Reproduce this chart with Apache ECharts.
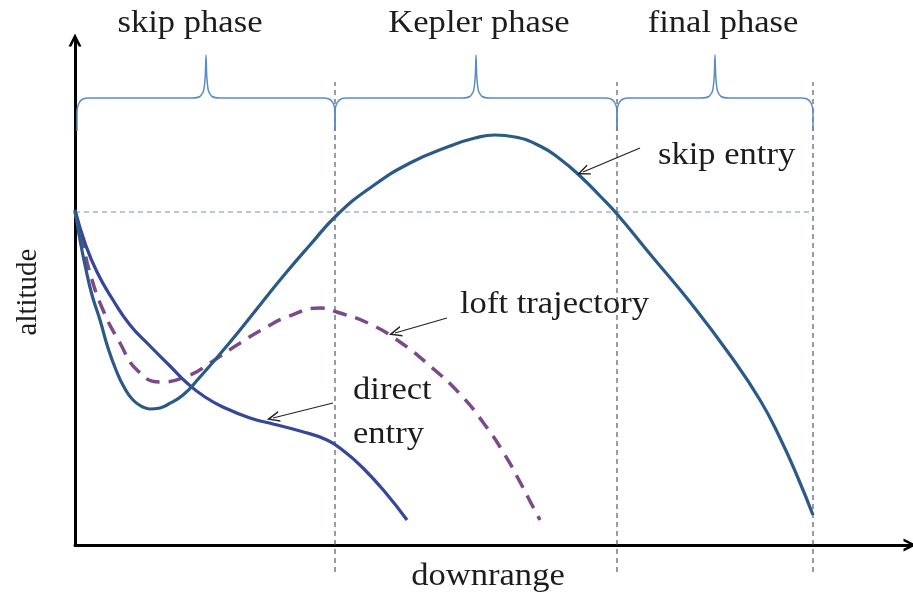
<!DOCTYPE html>
<html>
<head>
<meta charset="utf-8">
<script src="https://cdn.jsdelivr.net/npm/echarts@6/dist/echarts.min.js"></script>
<style>
html, body { margin: 0; padding: 0; background: #fff; }
#main { width: 913px; height: 598px; }
</style>
</head>
<body>
<div id="main"></div>
<script>
// curves (downrange, altitude)
var skipX = [0, 5, 10, 17, 25, 33, 41, 49, 58, 68, 75, 85, 92, 108, 125, 145, 165, 185, 210, 235, 262, 295, 335, 375, 400, 420, 440, 465, 485, 505, 525, 542, 575, 615, 655, 685, 705, 723, 738];
var skipY = [335, 305, 280, 250, 225, 197, 175, 158, 145, 138, 136, 137, 140, 150, 168, 191, 215, 240, 271, 300, 330, 357, 382, 399, 407, 410, 408, 399, 386, 369, 349, 331, 291, 243, 190, 145, 107, 67, 30];
var directX = [0, 10, 22, 38, 55, 75, 95, 112, 130, 150, 175, 198, 225, 252, 270, 288, 310, 332];
var directY = [335, 302, 273, 245, 220, 199, 179, 162, 148, 137, 127, 121, 114, 105, 93, 77, 53, 25];
var loftX = [0, 7, 15, 28, 45, 62, 85, 115, 135, 162, 190, 212, 245, 265, 295, 325, 355, 385, 410, 430, 445, 457, 465];
var loftY = [333, 305, 272, 235, 202, 175, 163, 170, 182, 200, 217, 228, 237, 232, 221, 203, 179, 151, 120, 90, 63, 40, 25];

// phases
var phaseNames = ['skip phase', 'Kepler phase', 'final phase'];
var phaseBounds = [2, 260, 542, 738];
var startAltitude = 333;

// annotation arrows [from, to]
var arrows = [
	[[565, 397], [508, 373]],
	[[372, 227], [320, 212]],
	[[258, 142], [198, 127]]
];

function pairs(xs, ys) {
	var out = [];
	for (var i = 0; i < xs.length; i++) out.push([xs[i], ys[i]]);
	return out;
}

// curly brace over one phase
function brace(a, b) {
	var top = 490, hook = 414;
	var m = (a + b) / 2;
	return [
		[a, hook], [a, 434], [a + 2, 442], [a + 6, 446], [a + 12, 447],
		[m - 14, 447], [m - 6, 448.5], [m - 2.5, 454], [m - 0.8, 468], [m, top],
		[m + 0.8, 468], [m + 2.5, 454], [m + 6, 448.5], [m + 14, 447],
		[b - 12, 447], [b - 6, 446], [b - 2, 442], [b, 434], [b, hook]
	];
}

var chevron = 'path://M0,10 L5,0 L10,10 L7.8,10 L5,4.2 L2.2,10 Z';
var thinChevron = 'path://M0,10 L5,0 L10,10 L8.6,10 L5,3 L1.4,10 Z';
var serif = '"Liberation Serif", "Times New Roman", serif';

var myChart = echarts.init(document.getElementById('main'));

var series = [];

// guide lines
series.push({
	type: 'line', silent: true, clip: false, symbol: 'none',
	data: [[0, startAltitude], [phaseBounds[3], startAltitude]],
	lineStyle: { color: '#6f8fbf', width: 1.2, type: [5, 4] }
});
for (var i = 1; i < phaseBounds.length; i++) {
	series.push({
		type: 'line', silent: true, clip: false, symbol: 'none',
		data: [[phaseBounds[i], -27], [phaseBounds[i], 463]],
		lineStyle: { color: '#404a60', width: 1.1, type: [5, 4] }
	});
}
// braces
for (var j = 0; j < phaseNames.length; j++) {
	series.push({
		type: 'line', silent: true, clip: false, symbol: 'none', smooth: 0.2,
		data: brace(phaseBounds[j], phaseBounds[j + 1]),
		lineStyle: { color: '#5b8cc4', width: 1.5 }
	});
}

series.push({
	name: 'loft trajectory', type: 'line', symbol: 'none', smooth: 0.5, clip: false,
	data: pairs(loftX, loftY),
	lineStyle: { color: '#7c4a88', width: 3.5, type: [14, 9] }
});
series.push({
	name: 'direct entry', type: 'line', symbol: 'none', smooth: 0.5, clip: false,
	data: pairs(directX, directY),
	lineStyle: { color: '#34479a', width: 3.2 }
});
series.push({
	name: 'skip entry', type: 'line', symbol: 'none', smooth: 0.5, clip: false,
	data: pairs(skipX, skipY),
	lineStyle: { color: '#2b5a86', width: 3.2 }
});

// arrows via markLine
series.push({
	type: 'line', data: [], symbol: 'none',
	markLine: {
		silent: true,
		symbol: ['none', thinChevron],
		symbolSize: [11, 13],
		label: { show: false },
		lineStyle: { color: '#222', width: 1.2, type: 'solid' },
		data: arrows.map(function(a) {
			return [{ coord: a[0] }, { coord: a[1] }];
		})
	}
});

function txt(s, x, y, align) {
	return {
		type: 'text', x: x, y: y, scaleX: 1.08,
		style: { text: s, fill: '#1c1c1c', font: '32px ' + serif, textAlign: align, textVerticalAlign: 'middle' }
	};
}

var option = {
	animation: false,
	backgroundColor: '#fff',
	grid: { left: 75, right: 3, top: 40, bottom: 53 },
	xAxis: {
		type: 'value', min: 0, max: 835,
		splitLine: { show: false }, axisTick: { show: false }, axisLabel: { show: false },
		axisLine: { lineStyle: { color: '#000', width: 3 }, symbol: ['none', chevron], symbolSize: [16, 13] }
	},
	yAxis: {
		type: 'value', min: 0, max: 505,
		splitLine: { show: false }, axisTick: { show: false }, axisLabel: { show: false },
		axisLine: { lineStyle: { color: '#000', width: 3 }, symbol: ['none', chevron], symbolSize: [16, 13] }
	},
	graphic: [
		txt(phaseNames[0], 190, 24, 'center'),
		txt(phaseNames[1], 479, 24, 'center'),
		txt(phaseNames[2], 723, 24, 'center'),
		txt('skip entry', 658, 156, 'left'),
		txt('loft trajectory', 460, 305, 'left'),
		txt('direct', 353, 391, 'left'),
		txt('entry', 353, 435, 'left'),
		txt('downrange', 488, 577, 'center'),
		{
			type: 'text', x: 28, y: 292, rotation: Math.PI / 2,
			style: { text: 'altitude', fill: '#1c1c1c', font: '29px ' + serif, textAlign: 'center', textVerticalAlign: 'middle' }
		}
	],
	series: series
};

myChart.setOption(option);
</script>
</body>
</html>
